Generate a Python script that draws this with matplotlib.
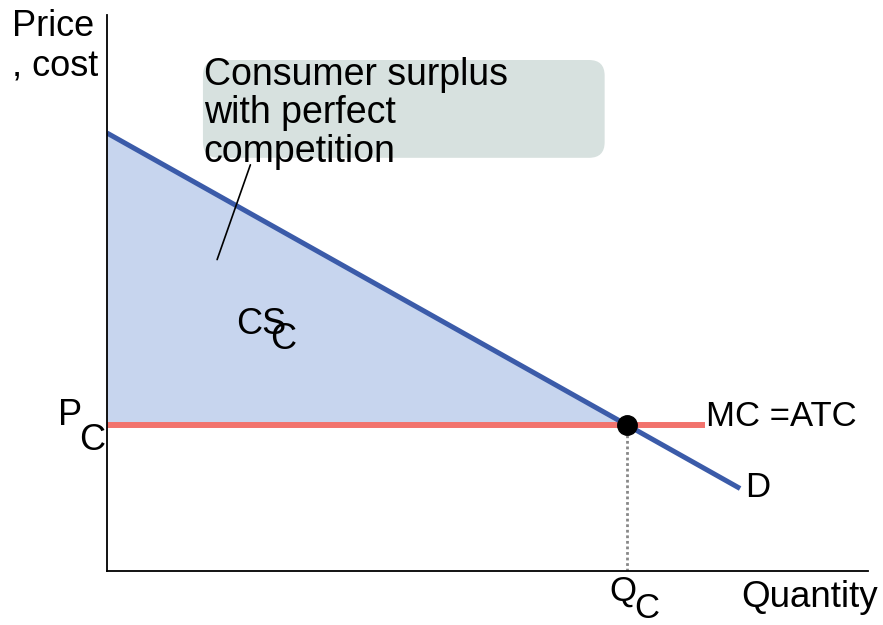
import matplotlib
matplotlib.use("Agg")
import matplotlib.pyplot as plt
from matplotlib.patches import FancyBboxPatch

plt.rcParams['font.family'] = ['Liberation Sans', 'DejaVu Sans']

# demand curve and MC = ATC line (quantity, price)
demand_q = [0, 4.87]
demand_p = [6, 1.13]
mc_q = [0, 4.6]
mc_p = [2, 2]
# competitive equilibrium
q_c = 4
p_c = 2

blue = '#3b5ba9'
red = '#f2736d'
fill = '#c7d5ee'
boxcol = '#d7e1df'

W, H = 883, 625
fig = plt.figure(figsize=(W / 100, H / 100), dpi=100)
# axes: y axis at x=107px, x axis at y=571px
ax = fig.add_axes([107 / W, (H - 571) / H, (868 - 107) / W, (571 - 15) / H])
ax.set_xlim(0, 761 / 130)
ax.set_ylim(0, 556 / 73)
for s in ['top', 'right']:
    ax.spines[s].set_visible(False)
for s in ['left', 'bottom']:
    ax.spines[s].set_linewidth(1.3)
ax.set_xticks([])
ax.set_yticks([])

# consumer surplus triangle
ax.fill_between([demand_q[0], q_c], [demand_p[0], p_c], [p_c, p_c], color=fill, lw=0)

ax.plot(mc_q, mc_p, color=red, lw=4.3, solid_capstyle='butt')
ax.plot(demand_q, demand_p, color=blue, lw=3.6, solid_capstyle='butt')
ax.plot([q_c, q_c], [0, p_c], color='#888888', lw=2, ls=(0, (1, 1)))
ax.plot([q_c], [p_c], 'o', color='black', ms=14)

# labels
ax.text(mc_q[1] + 0.005, mc_p[1] + 0.12, 'MC =ATC', fontsize=25, ha='left', va='center')
ax.text(demand_q[1] + 0.04, demand_p[1] + 0.02, 'D', fontsize=25, ha='left', va='center')

fig.text(741 / W, 1 - 607 / H, 'Quantity', fontsize=26.5, ha='left', va='baseline')
fig.text(12 / W, 1 - 9 / H, 'Price\n, cost', fontsize=26, ha='left', va='top',
         linespacing=1.22)

# subscripted labels drawn as two pieces of text
fig.text(58 / W, 1 - 425 / H, 'P', fontsize=26, ha='left', va='baseline')
fig.text(79 / W, 1 - 450 / H, 'C', fontsize=26, ha='left', va='baseline')
fig.text(609 / W, 1 - 601 / H, 'Q', fontsize=25, ha='left', va='baseline')
fig.text(634 / W, 1 - 618 / H, 'C', fontsize=25, ha='left', va='baseline')
fig.text(236 / W, 1 - 334 / H, 'CS', fontsize=26, ha='left', va='baseline')
fig.text(270 / W, 1 - 349 / H, 'C', fontsize=26, ha='left', va='baseline')

# callout box
box = FancyBboxPatch((0.738, 5.66), 3.09, 1.34,
                     boxstyle='round,pad=0,rounding_size=0.12',
                     mutation_aspect=130 / 73, fc=boxcol, ec='none', zorder=3)
ax.add_patch(box)
ax.text(0.745, 7.04, 'Consumer surplus\nwith perfect\ncompetition', fontsize=27,
        ha='left', va='top', linespacing=1.08, zorder=4)
ax.annotate('', xy=(0.84, 4.23), xytext=(1.11, 5.6),
            arrowprops=dict(arrowstyle='-', color='black', lw=1.2), zorder=5)

fig.savefig('out.png', dpi=100)
